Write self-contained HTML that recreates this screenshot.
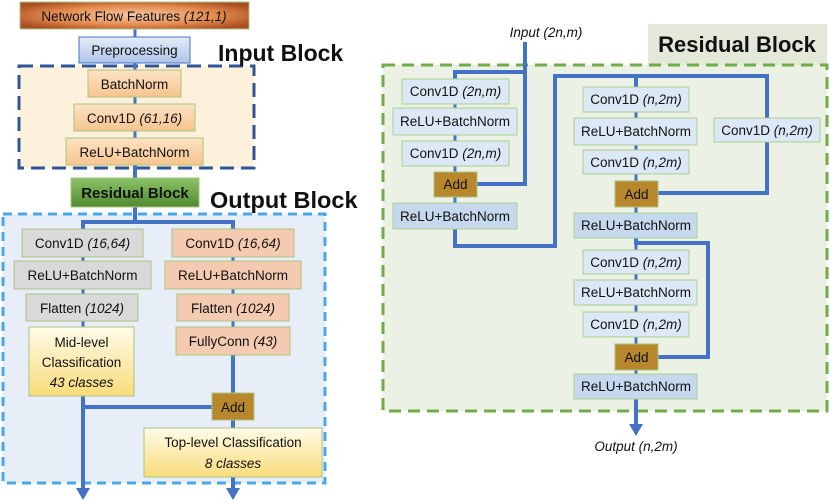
<!DOCTYPE html>
<html><head><meta charset="utf-8"><style>
body{margin:0;background:#fff}
svg{display:block}
text{font-family:"Liberation Sans",sans-serif;font-size:13.5px;fill:#111}
.i{font-style:italic}
.b{font-weight:bold}
</style></head><body>
<svg width="830" height="500" viewBox="0 0 830 500" xmlns="http://www.w3.org/2000/svg">
<defs>
<radialGradient id="gOr" cx="50%" cy="50%" r="60%"><stop offset="0" stop-color="#f6c9a4"/><stop offset="0.6" stop-color="#e38a4e"/><stop offset="1" stop-color="#a84e22"/></radialGradient>
<linearGradient id="gPre" x1="0" y1="0" x2="0" y2="1"><stop offset="0" stop-color="#e4ecf8"/><stop offset="1" stop-color="#aec4e8"/></linearGradient>
<linearGradient id="gIn" x1="0" y1="0" x2="0" y2="1"><stop offset="0" stop-color="#fde3c4"/><stop offset="1" stop-color="#f6c48e"/></linearGradient>
<linearGradient id="gRes" x1="0" y1="0" x2="0" y2="1"><stop offset="0" stop-color="#8cc26a"/><stop offset="1" stop-color="#4f8a2e"/></linearGradient>
<linearGradient id="gY" x1="0" y1="0" x2="0" y2="1"><stop offset="0" stop-color="#fffbe8"/><stop offset="1" stop-color="#f8dc7a"/></linearGradient>
</defs>

<rect x="19" y="66" width="235" height="102" fill="#fdf1dc" stroke="#2f5597" stroke-width="3" stroke-dasharray="14,7"/>
<rect x="3" y="214" width="322" height="269" fill="#e8eef8" stroke="#4aa8e8" stroke-width="3" stroke-dasharray="9,6"/>

<g stroke="#4472c4" fill="none">
<line x1="135" y1="29" x2="135" y2="37" stroke-width="3"/>
<line x1="135" y1="63" x2="135" y2="70" stroke-width="3"/>
<line x1="135" y1="97" x2="135" y2="104" stroke-width="3"/>
<line x1="135" y1="131" x2="135" y2="138" stroke-width="3"/>
<line x1="135" y1="165" x2="135" y2="178" stroke-width="4"/>
<polyline points="135,207 135,222" stroke-width="4"/>
<polyline points="83,229 83,222 233,222 233,229" stroke-width="4"/>
<line x1="83" y1="257" x2="83" y2="327" stroke-width="3"/>
<line x1="233" y1="257" x2="233" y2="327" stroke-width="3"/>
<line x1="233" y1="355" x2="233" y2="428" stroke-width="4"/>
<line x1="83" y1="396" x2="83" y2="490" stroke-width="4"/>
<line x1="83" y1="407" x2="212" y2="407" stroke-width="4"/>
<line x1="233" y1="477" x2="233" y2="490" stroke-width="4"/>
</g>
<polygon points="76,488 90,488 83,500" fill="#4472c4"/>
<polygon points="226,488 240,488 233,500" fill="#4472c4"/>

<rect x="20" y="2" width="229" height="27" fill="url(#gOr)" stroke="#a9c47f"/>
<text x="134" y="21" text-anchor="middle">Network Flow Features <tspan class="i">(121,1)</tspan></text>
<rect x="79" y="37" width="111" height="26" fill="url(#gPre)" stroke="#4472c4"/>
<text x="134.5" y="55" text-anchor="middle">Preprocessing</text>
<text x="218" y="61" class="b" style="font-size:23px">Input Block</text>

<g stroke="#a9c47f" fill="url(#gIn)">
<rect x="88" y="70" width="93" height="27"/>
<rect x="74" y="104" width="121" height="27"/>
<rect x="66" y="138" width="137" height="27"/>
</g>
<text x="134.5" y="89" text-anchor="middle">BatchNorm</text>
<text x="134.5" y="123" text-anchor="middle">Conv1D <tspan class="i">(61,16)</tspan></text>
<text x="134.5" y="157" text-anchor="middle">ReLU+BatchNorm</text>

<rect x="71" y="178" width="128" height="29" fill="url(#gRes)" stroke="#a9c47f"/>
<text x="135" y="198" text-anchor="middle" class="b" style="font-size:15px">Residual Block</text>
<text x="210" y="208" class="b" style="font-size:23.5px">Output Block</text>

<g stroke="#a9c47f" fill="#d9d9d9">
<rect x="22" y="229" width="121" height="28"/>
<rect x="14" y="261" width="137" height="28"/>
<rect x="26" y="294" width="112" height="27"/>
</g>
<g stroke="#a9c47f" fill="#f4cbb0">
<rect x="172" y="229" width="122" height="28"/>
<rect x="165" y="261" width="136" height="28"/>
<rect x="177" y="294" width="112" height="27"/>
<rect x="176" y="327" width="114" height="28"/>
</g>
<text x="82.5" y="248" text-anchor="middle">Conv1D <tspan class="i">(16,64)</tspan></text>
<text x="82.5" y="280" text-anchor="middle">ReLU+BatchNorm</text>
<text x="82" y="313" text-anchor="middle">Flatten <tspan class="i">(1024)</tspan></text>
<text x="233" y="248" text-anchor="middle">Conv1D <tspan class="i">(16,64)</tspan></text>
<text x="233" y="280" text-anchor="middle">ReLU+BatchNorm</text>
<text x="233" y="313" text-anchor="middle">Flatten <tspan class="i">(1024)</tspan></text>
<text x="233" y="346" text-anchor="middle">FullyConn <tspan class="i">(43)</tspan></text>

<rect x="29" y="327" width="105" height="69" fill="url(#gY)" stroke="#a9c47f"/>
<text x="81.5" y="347" text-anchor="middle">Mid-level</text>
<text x="81.5" y="367" text-anchor="middle">Classification</text>
<text x="81.5" y="387" text-anchor="middle" class="i">43 classes</text>

<rect x="212" y="393" width="42" height="27" fill="#b8862b" stroke="#a9c47f"/>
<text x="233" y="412" text-anchor="middle">Add</text>

<rect x="144" y="428" width="178" height="49" fill="url(#gY)" stroke="#a9c47f"/>
<text x="233" y="447" text-anchor="middle">Top-level Classification</text>
<text x="233" y="468" text-anchor="middle" class="i">8 classes</text>

<rect x="648" y="24" width="179" height="41" fill="#e3e8d9"/>
<text x="737" y="52" text-anchor="middle" class="b" style="font-size:22px">Residual Block</text>
<rect x="383" y="65" width="444" height="346" fill="#ebf1e4" stroke="#70ad47" stroke-width="3" stroke-dasharray="12,7"/>
<text x="546" y="37" text-anchor="middle" class="i">Input (2n,m)</text>

<g stroke="#4472c4" fill="none" stroke-width="4">
<polyline points="525,42 525,184 477,184"/>
<polyline points="525,72 455,72 455,79"/>
<polyline points="455,229 455,246 555,246 555,76 767,76 767,118"/>
<line x1="636" y1="76" x2="636" y2="87"/>
<polyline points="767,142 767,193 658,193"/>
<polyline points="636,238 636,243 708,243 708,357 658,357"/>
<line x1="636" y1="399" x2="636" y2="425"/>
</g>
<g stroke="#4472c4" stroke-width="3">
<line x1="455" y1="104" x2="455" y2="203"/>
<line x1="636" y1="112" x2="636" y2="213"/>
<line x1="636" y1="238" x2="636" y2="374"/>
</g>
<polygon points="629,424 643,424 636,436" fill="#4472c4"/>
<text x="636" y="451" text-anchor="middle" class="i">Output (n,2m)</text>

<g stroke="#a9d18e" fill="#dce8f5">
<rect x="402" y="79" width="107" height="25"/>
<rect x="393" y="108" width="124" height="27"/>
<rect x="402" y="141" width="107" height="25"/>
<rect x="393" y="203" width="124" height="26" fill="#c5d8ee"/>
<rect x="583" y="87" width="106" height="25"/>
<rect x="574" y="118" width="123" height="27"/>
<rect x="583" y="150" width="106" height="24"/>
<rect x="574" y="213" width="123" height="25" fill="#c5d8ee"/>
<rect x="714" y="118" width="106" height="24"/>
<rect x="583" y="250" width="106" height="24"/>
<rect x="574" y="280" width="123" height="25"/>
<rect x="583" y="312" width="106" height="25"/>
<rect x="574" y="374" width="123" height="25" fill="#c5d8ee"/>
</g>
<g fill="#b8862b" stroke="#a9c47f">
<rect x="434" y="172" width="43" height="25"/>
<rect x="615" y="181" width="43" height="26"/>
<rect x="615" y="344" width="43" height="26"/>
</g>
<g text-anchor="middle">
<text x="455.5" y="96">Conv1D <tspan class="i">(2n,m)</tspan></text>
<text x="455" y="126">ReLU+BatchNorm</text>
<text x="455.5" y="158">Conv1D <tspan class="i">(2n,m)</tspan></text>
<text x="455.5" y="189">Add</text>
<text x="455" y="221">ReLU+BatchNorm</text>
<text x="636" y="104">Conv1D <tspan class="i">(n,2m)</tspan></text>
<text x="636" y="136">ReLU+BatchNorm</text>
<text x="636" y="167">Conv1D <tspan class="i">(n,2m)</tspan></text>
<text x="636.5" y="199">Add</text>
<text x="636" y="230">ReLU+BatchNorm</text>
<text x="767" y="135">Conv1D <tspan class="i">(n,2m)</tspan></text>
<text x="636" y="267">Conv1D <tspan class="i">(n,2m)</tspan></text>
<text x="636" y="297">ReLU+BatchNorm</text>
<text x="636" y="329">Conv1D <tspan class="i">(n,2m)</tspan></text>
<text x="636.5" y="362">Add</text>
<text x="636" y="391">ReLU+BatchNorm</text>
</g>
</svg>
</body></html>
